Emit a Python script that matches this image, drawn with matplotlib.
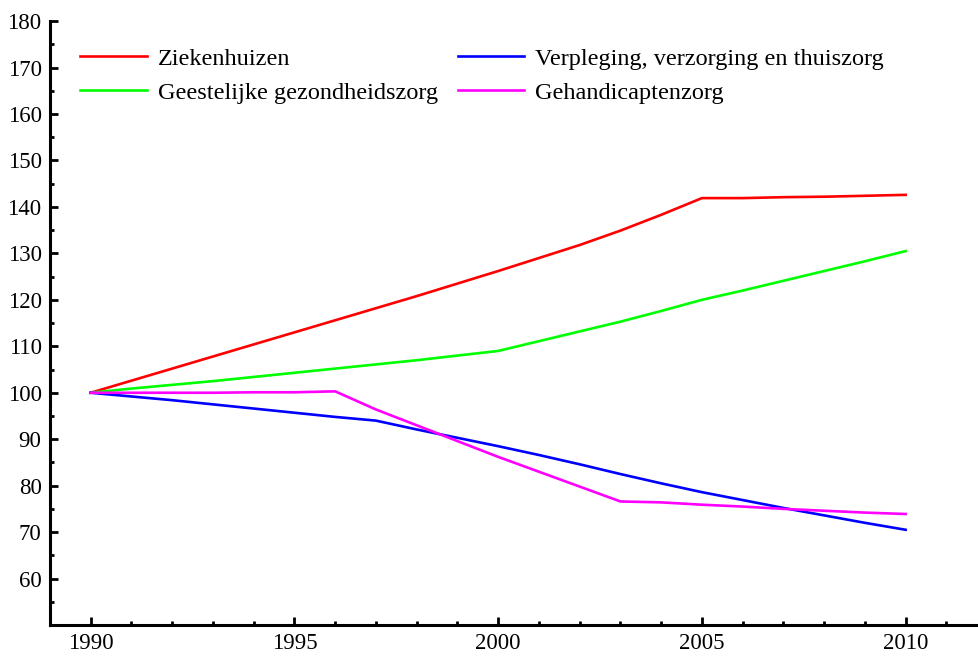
import matplotlib
matplotlib.use('Agg')
import matplotlib.pyplot as plt
from matplotlib.ticker import MultipleLocator

plt.rcParams['font.family'] = ['Liberation Serif', 'DejaVu Serif']

years = list(range(1990, 2011))
ziekenhuizen = [100, 102.6, 105.2, 107.8, 110.4, 113.0, 115.6, 118.2, 120.8, 123.5, 126.2,
                129.0, 131.8, 134.9, 138.3, 141.9, 141.9, 142.1, 142.2, 142.4, 142.6]
ggz = [100, 100.9, 101.7, 102.5, 103.4, 104.3, 105.2, 106.1, 107.0, 108.0, 109.0,
       111.1, 113.2, 115.3, 117.6, 120.0, 122.0, 124.1, 126.2, 128.3, 130.5]
vvt = [100, 99.2, 98.4, 97.5, 96.6, 95.7, 94.8, 94.0, 92.1, 90.3, 88.5,
       86.6, 84.6, 82.5, 80.5, 78.6, 76.9, 75.2, 73.6, 72.0, 70.5]
gehandicapten = [100, 100, 100, 100, 100.1, 100.1, 100.3, 96.4, 93.0, 89.6, 86.2,
                 83.0, 79.8, 76.6, 76.4, 75.9, 75.5, 75.0, 74.6, 74.2, 73.9]

fig = plt.figure(figsize=(9.79, 6.6), dpi=100)
ax = fig.add_axes([0.051, 0.053, 0.949, 0.915])

ax.plot(years, ziekenhuizen, color='#ff0000', lw=1.9, label='Ziekenhuizen')
ax.plot(years, ggz, color='#00ff00', lw=1.9, label='Geestelijke gezondheidszorg')
ax.plot(years, vvt, color='#0000ff', lw=1.9, label='Verpleging, verzorging en thuiszorg')
ax.plot(years, gehandicapten, color='#ff00ff', lw=1.9, label='Gehandicaptenzorg')

ax.set_xlim(1989, 2011.8)
ax.set_ylim(50, 180)
ax.xaxis.set_major_locator(MultipleLocator(5))
ax.xaxis.set_minor_locator(MultipleLocator(1))
ax.yaxis.set_major_locator(MultipleLocator(10))
ax.yaxis.set_minor_locator(MultipleLocator(5))
ax.set_yticks(range(60, 190, 10))

for s in ['top', 'right']:
    ax.spines[s].set_visible(False)
for s in ['left', 'bottom']:
    ax.spines[s].set_linewidth(2.2)
ax.tick_params(which='major', direction='in', length=6, width=2, labelsize=16.5, pad=6)
ax.tick_params(which='minor', direction='in', length=3, width=2)

ax.legend(loc='upper left', ncol=2, frameon=False, fontsize=17.5,
          handlelength=2.75, handletextpad=0.45, columnspacing=0.8,
          labelspacing=0.5, bbox_to_anchor=(0.009, 0.992))

fig.savefig('out.png')
